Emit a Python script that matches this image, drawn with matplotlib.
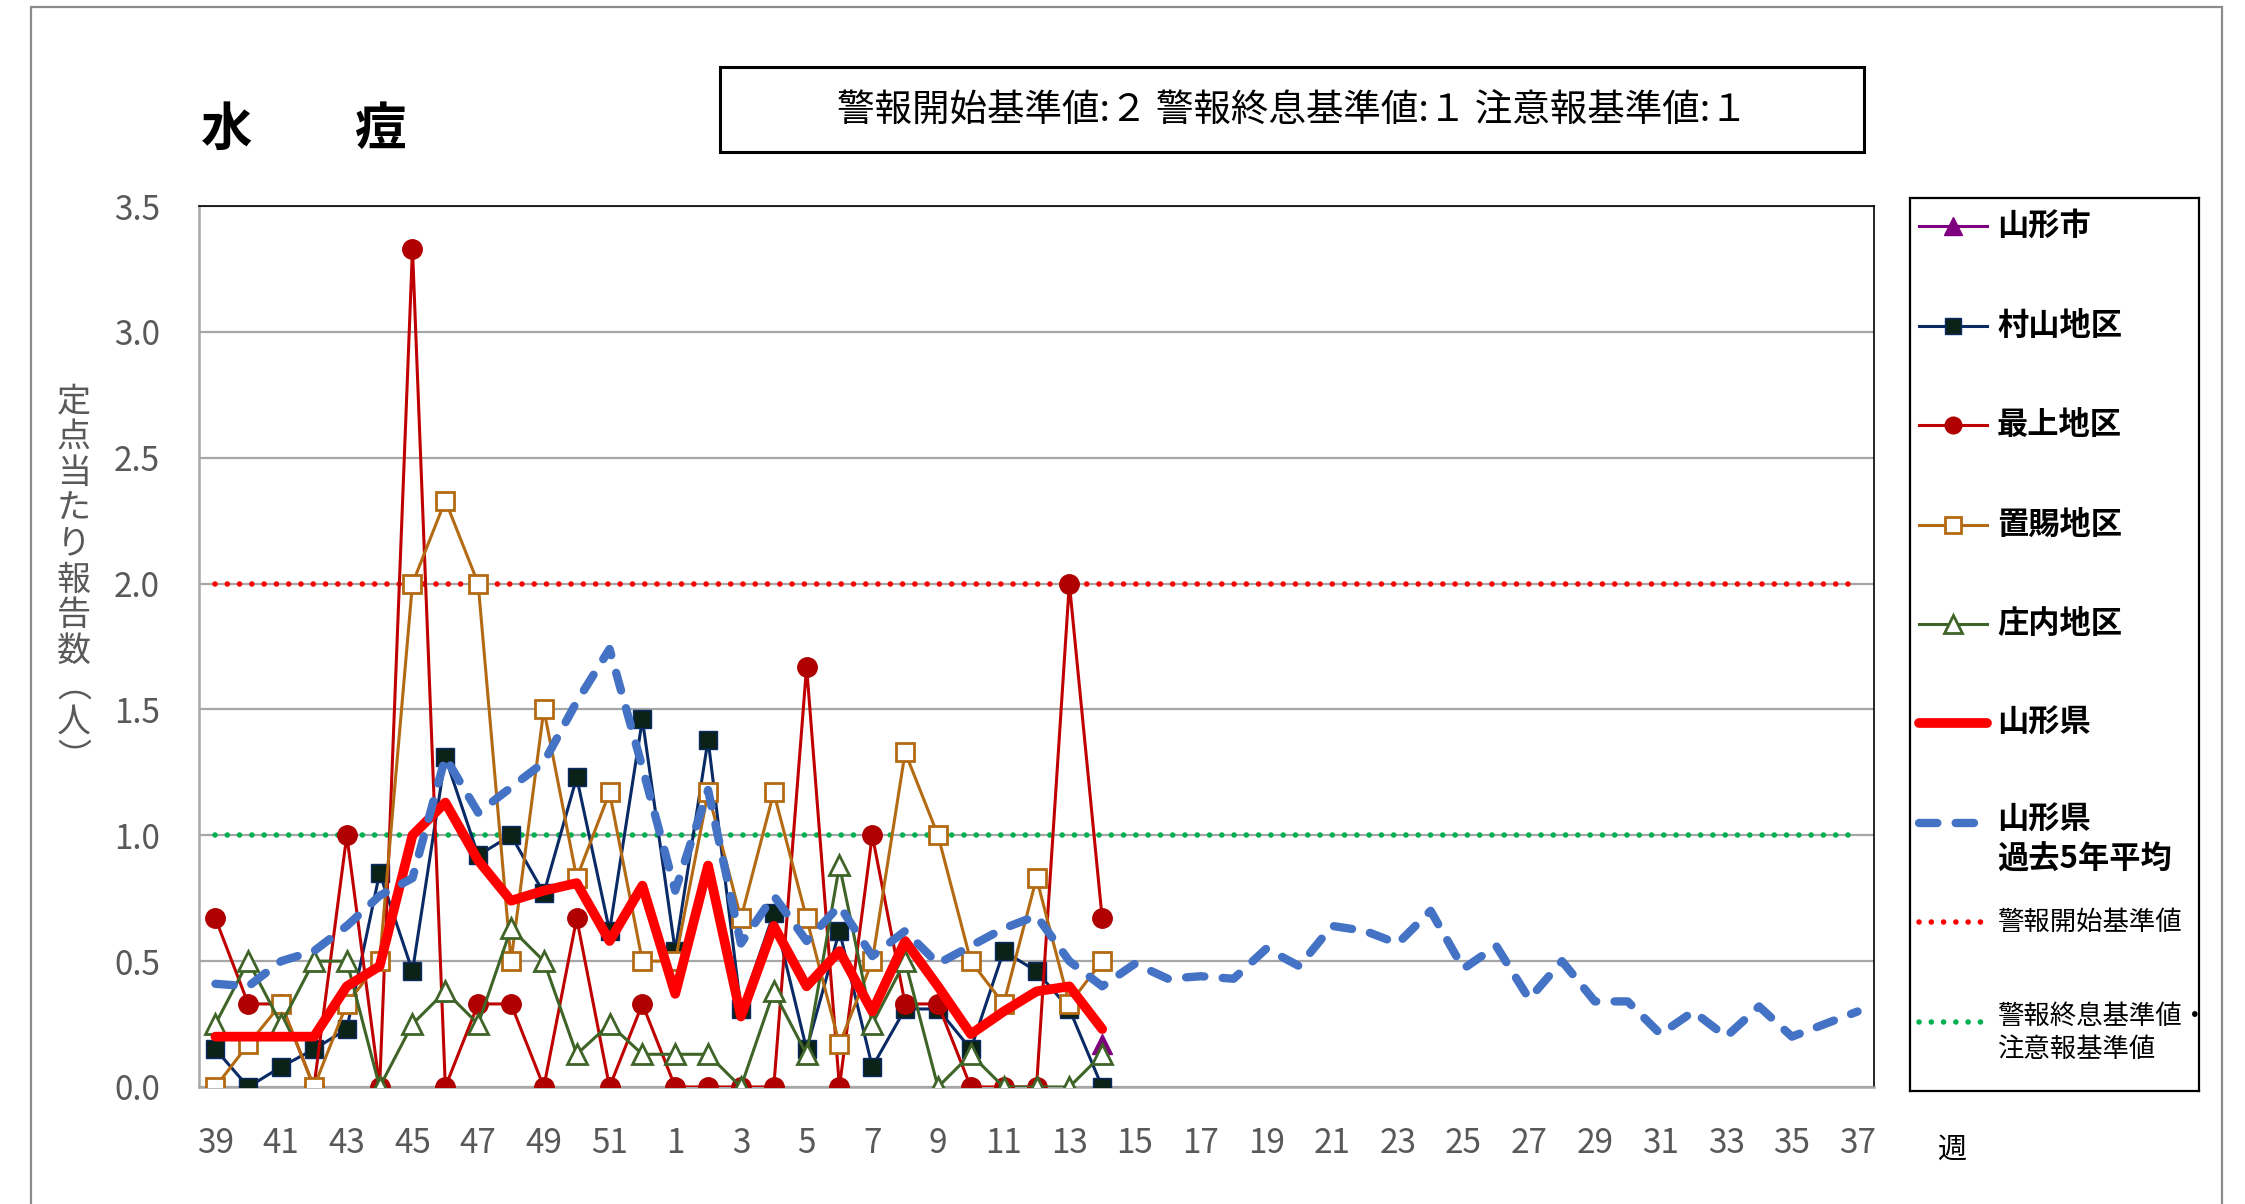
#!/usr/bin/env python3
# coding: utf-8
"""Weekly chickenpox (水痘) reports per sentinel, Yamagata prefecture"""

import numpy as np
import matplotlib
matplotlib.use("Agg")
import matplotlib.pyplot as plt
from matplotlib.patches import Rectangle
from matplotlib.lines import Line2D

plt.rcParams['font.family'] = ['Noto Sans CJK JP', 'DejaVu Sans']

# week numbers on the category axis
weeks = list(range(39, 53)) + list(range(1, 38))

# this season (weeks 39 .. 14)
yamagata_city = [None] * 27 + [0.17]
murayama = [0.15, 0, 0.08, 0.15, 0.23, 0.85, 0.46, 1.31, 0.92, 1.0, 0.77, 1.23, 0.62, 1.46,
            0.54, 1.38, 0.31, 0.69, 0.15, 0.62, 0.08, 0.31, 0.31, 0.15, 0.54, 0.46, 0.31, 0]
mogami = [0.67, 0.33, 0.33, 0, 1.0, 0, 3.33, 0, 0.33, 0.33, 0, 0.67, 0, 0.33,
          0, 0, 0, 0, 1.67, 0, 1.0, 0.33, 0.33, 0, 0, 0, 2.0, 0.67]
okitama = [0, 0.17, 0.33, 0, 0.33, 0.5, 2.0, 2.33, 2.0, 0.5, 1.5, 0.83, 1.17, 0.5,
           0.5, 1.17, 0.67, 1.17, 0.67, 0.17, 0.5, 1.33, 1.0, 0.5, 0.33, 0.83, 0.33, 0.5]
shonai = [0.25, 0.5, 0.25, 0.5, 0.5, 0, 0.25, 0.38, 0.25, 0.63, 0.5, 0.13, 0.25, 0.13,
          0.13, 0.13, 0, 0.38, 0.13, 0.88, 0.25, 0.5, 0, 0.13, 0, 0, 0, 0.13]
prefecture = [0.2, 0.2, 0.2, 0.2, 0.4, 0.48, 1.0, 1.13, 0.9, 0.74, 0.78, 0.81, 0.58, 0.80,
              0.37, 0.88, 0.28, 0.64, 0.40, 0.54, 0.30, 0.58, 0.40, 0.21, 0.30, 0.38, 0.40, 0.23]
# past 5-year average, whole season
avg5 = [0.41, 0.40, 0.50, 0.54, 0.64, 0.76, 0.83, 1.31, 1.09, 1.19,
        1.29, 1.53, 1.74, 1.27, 0.78, 1.18, 0.57, 0.76, 0.58, 0.72,
        0.52, 0.62, 0.49, 0.56, 0.63, 0.68, 0.50, 0.40, 0.49, 0.43,
        0.44, 0.43, 0.55, 0.48, 0.64, 0.62, 0.57, 0.70, 0.47, 0.56,
        0.35, 0.50, 0.34, 0.34, 0.21, 0.30, 0.20, 0.32, 0.20, 0.25, 0.30]
alert_start = [2] * len(weeks)
alert_end = [1] * len(weeks)

def arr(vals):
    return np.array([np.nan if v is None else v for v in vals], dtype=float)

W, H = 2245, 1204
fig = plt.figure(figsize=(W / 100, H / 100), dpi=100)

# outer frame and title
fig.patches.append(Rectangle((31 / W, -0.02), (2222 - 31) / W, 1.02 - 7 / H,
                             transform=fig.transFigure, fill=False,
                             edgecolor="#8c8c8c", lw=1.6))
fig.patches.append(Rectangle((720 / W, 1 - 152 / H), 1144 / W, 85 / H,
                             transform=fig.transFigure, fill=False,
                             edgecolor="black", lw=2.2))
fig.text(1292 / W, 1 - 110 / H, "警報開始基準値:２ 警報終息基準値:１ 注意報基準値:１",
         ha="center", va="center", fontsize=27)
fig.text(304 / W, 1 - 129 / H, "水　　痘", ha="center", va="center",
         fontsize=37, fontweight="bold")

ax = fig.add_axes([199 / W, 1 - 1087 / H, (1874 - 199) / W, (1087 - 206) / H])
x = np.arange(len(weeks))
n = len(murayama)

dot = (0, (0.01, 2.2))
dash = (0, (2.2, 2.2))

thin = 2.2
styles = {
    "city": dict(color="#7f007f", lw=thin, marker="^", ms=15, mfc="#7f007f", mec="#7f007f"),
    "murayama": dict(color="#0a2a66", lw=thin, marker="s", ms=13, mfc="#0b2218", mec="#0a2a66"),
    "mogami": dict(color="#c00000", lw=thin, marker="o", ms=14, mfc="#b00000", mec="#b00000"),
    "okitama": dict(color="#b36a12", lw=thin, marker="s", ms=13, mfc="white", mec="#b36a12", mew=2),
    "shonai": dict(color="#3f6428", lw=thin, marker="^", ms=15, mfc="white", mec="#3f6428", mew=2),
    "pref": dict(color="#ff0000", lw=7, solid_capstyle="round"),
    "avg": dict(color="#4472c4", lw=6, ls=dash, dash_capstyle="round"),
    "start": dict(color="#ff0000", lw=4, ls=dot, dash_capstyle="round"),
    "end": dict(color="#00b050", lw=4, ls=dot, dash_capstyle="round"),
}

ax.plot(x, alert_start, zorder=3, **styles["start"])
ax.plot(x, alert_end, zorder=3, **styles["end"])
ax.plot(x[:n], arr(yamagata_city), zorder=4, **styles["city"])
ax.plot(x[:n], murayama, zorder=4, **styles["murayama"])
ax.plot(x[:n], mogami, zorder=4, **styles["mogami"])
ax.plot(x[:n], okitama, zorder=4, **styles["okitama"])
ax.plot(x[:n], shonai, zorder=4, **styles["shonai"])
ax.plot(x[:n], prefecture, zorder=5, **styles["pref"])
ax.plot(x, avg5, zorder=6, **styles["avg"])

ax.set_xlim(-0.5, len(weeks) - 0.5)
ax.set_ylim(0, 3.5)
ax.set_yticks(np.arange(0, 3.51, 0.5))
ax.set_yticklabels([f"{v:.1f}" for v in np.arange(0, 3.51, 0.5)])
ax.set_xticks(x)
ax.set_xticklabels([str(w) if i % 2 == 0 else "" for i, w in enumerate(weeks)])
ax.tick_params(axis="y", length=0, pad=28, labelsize=24, labelcolor="#595959")
ax.tick_params(axis="x", length=0, pad=28, labelsize=24, labelcolor="#595959")
ax.grid(True, axis="y", color="#a6a6a6", lw=1.6, zorder=1)
ax.set_axisbelow(True)
for side in ("top", "right"):
    ax.spines[side].set_color("black")
    ax.spines[side].set_linewidth(1.2)
for side in ("left", "bottom"):
    ax.spines[side].set_color("#a6a6a6")
    ax.spines[side].set_linewidth(1.8)

ylabel = "定点当たり報告数︵人︶"
fig.text(74 / W, 1 - 580 / H, "\n".join(ylabel), ha="center", va="center",
         fontsize=24.5, color="#595959", linespacing=1.02)
fig.text(1952 / W, 1 - 1150 / H, "週", ha="center", va="center", fontsize=21)

# legend drawn in its own box
lg = fig.add_axes([1910 / W, 1 - 1091 / H, 289 / W, 893 / H])
lg.set_xlim(0, 289)
lg.set_ylim(893, 0)
lg.set_xticks([])
lg.set_yticks([])
for s in lg.spines.values():
    s.set_linewidth(1.6)
    s.set_color("black")

entries = [
    ("山形市", "city", 28, "bold"),
    ("村山地区", "murayama", 128, "bold"),
    ("最上地区", "mogami", 227, "bold"),
    ("置賜地区", "okitama", 327, "bold"),
    ("庄内地区", "shonai", 426, "bold"),
    ("山形県", "pref", 525, "bold"),
    ("山形県\n過去5年平均", "avg", 625, "bold"),
    ("警報開始基準値", "start", 724, "normal"),
    ("警報終息基準値・\n注意報基準値", "end", 824, "normal"),
]
marker_keys = ("marker", "ms", "mfc", "mec", "mew")
for label, key, yy, weight in entries:
    style = styles[key]
    line_style = {k: v for k, v in style.items() if k not in marker_keys}
    lg.add_line(Line2D([9, 77], [yy, yy], **line_style))
    if "marker" in style:
        mk = {k: v for k, v in style.items() if k in marker_keys}
        mk["ms"] = mk["ms"] - 2
        lg.add_line(Line2D([43], [yy], ls="none", **mk))
    size = 22.5 if weight == "bold" else 19
    if "\n" in label:
        lg.text(87, yy - 19, label, ha="left", va="top", fontsize=size,
                fontweight=weight, linespacing=1.3)
    else:
        lg.text(87, yy, label, ha="left", va="center", fontsize=size,
                fontweight=weight)

fig.savefig("out.png", dpi=100)
